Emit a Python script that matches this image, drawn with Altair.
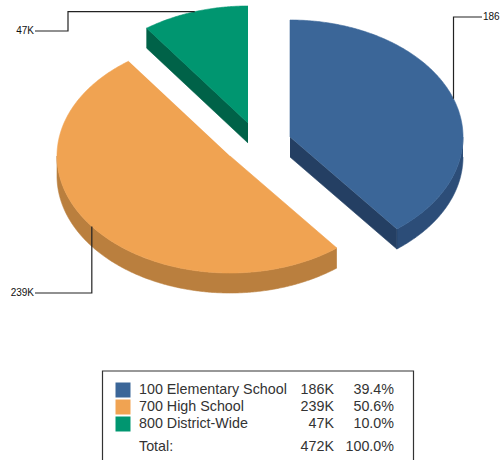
import math
import altair as alt
import pandas as pd

# Pie values and legend rows
categories = ["100 Elementary School", "700 High School", "800 District-Wide"]
amounts = [186, 239, 47]
amount_labels = ["186K", "239K", "47K"]
percent_labels = ["39.4%", "50.6%", "10.0%"]
callout_labels = ["186", "239K", "47K"]
total_label = "Total:"
total_amount = "472K"
total_percent = "100.0%"

top_colors = ["#3B6698", "#F0A352", "#009670"]
wall_colors = ["#2C4D78", "#BA7F3E", "#006B50"]
cut_colors = ["#243F63", "#BA7F3E", "#006248"]

# Ellipse of the tilted disc, and the exploded centre of each slice
RX, RY, DEPTH = 173, 117, 20
centers = [(290, 137), (230, 156), (248, 123)]

W, H = 500, 460
x_scale = alt.Scale(domain=[0, W])
y_scale = alt.Scale(domain=[0, H], reverse=True)
X = alt.X("x:Q", scale=x_scale, axis=None)
Y = alt.Y("y:Q", scale=y_scale, axis=None)


def rim(center, a0, a1, drop=0):
    n = max(2, int(abs(a1 - a0)) * 2)
    pts = []
    for i in range(n + 1):
        a = math.radians(a0 + (a1 - a0) * i / n)
        pts.append((center[0] + RX * math.sin(a), center[1] - RY * math.cos(a) + drop))
    return pts


def polygon(points, color):
    df = pd.DataFrame(points, columns=["x", "y"]).assign(i=range(len(points)))
    return alt.Chart(df).mark_line(fill=color, stroke=color, strokeWidth=0.6, clip=False).encode(
        x=X, y=Y, order="i:Q"
    )


total = sum(amounts)
spans = []
start = 0.0
for v in amounts:
    spans.append((start, start + v / total * 360))
    start += v / total * 360

layers = []
# Back-most slice first so nearer slices overlap it
for idx in [2, 1, 0]:
    c = centers[idx]
    a0, a1 = spans[idx]
    lo, hi = max(a0, 90), min(a1, 270)
    if hi > lo:
        layers.append(polygon(rim(c, lo, hi) + rim(c, hi, lo, DEPTH), wall_colors[idx]))
    if idx == 0:
        e = rim(c, a1, a1)[0]
        layers.append(polygon([c, e, (e[0], e[1] + DEPTH), (c[0], c[1] + DEPTH)], cut_colors[idx]))
    if idx == 2:
        e = rim(c, a0, a0)[0]
        layers.append(polygon([c, e, (e[0], e[1] + DEPTH), (c[0], c[1] + DEPTH)], cut_colors[idx]))
    layers.append(polygon([c] + rim(c, a0, a1), top_colors[idx]))

# Callout lines start on the rim at each slice's middle angle and run square to the label
anchors = [rim(centers[i], sum(spans[i]) / 2, sum(spans[i]) / 2)[0] for i in range(3)]
routes = [
    [anchors[0], (anchors[0][0], 17), (482, 17)],
    [anchors[1], (anchors[1][0], 293), (35, 293)],
    [anchors[2], (68, anchors[2][1]), (68, 31), (35, 31)],
]
leader_rows = []
for idx, route in enumerate(routes):
    for j, (px, py) in enumerate(route):
        leader_rows.append({"s": idx, "i": j, "x": px, "y": py})
layers.append(
    alt.Chart(pd.DataFrame(leader_rows)).mark_line(color="#222222", strokeWidth=1.2).encode(
        x=X, y=Y, detail="s:N", order="i:Q"
    )
)

callouts = pd.DataFrame(
    {"x": [483, 34, 34], "y": [17, 293, 31], "t": callout_labels, "a": ["left", "right", "right"]}
)
for align in ["left", "right"]:
    layers.append(
        alt.Chart(callouts[callouts.a == align]).mark_text(
            align=align, baseline="middle", font="Liberation Sans", fontSize=10, color="#111111"
        ).encode(x=X, y=Y, text="t:N")
    )

# Legend frame: open at the bottom, it runs off the page
frame = pd.DataFrame({"x": [102.5, 102.5, 413.5, 413.5], "y": [470, 371, 371, 470], "i": [0, 1, 2, 3]})
layers.append(
    alt.Chart(frame).mark_line(color="#333333", strokeWidth=1.2, clip=True).encode(x=X, y=Y, order="i:Q")
)

row_y = [390, 407, 424]
swatches = pd.DataFrame(
    {
        "x": [115.5] * 3,
        "x2": [130.5] * 3,
        "y": [y - 7.5 for y in row_y],
        "y2": [y + 7.5 for y in row_y],
        "c": top_colors,
    }
)
layers.append(
    alt.Chart(swatches).mark_rect().encode(
        x=X, x2="x2:Q", y=Y, y2="y2:Q", color=alt.Color("c:N", scale=None)
    )
)

rows = pd.DataFrame(
    {
        "y": row_y + [447],
        "name": categories + [total_label],
        "amount": amount_labels + [total_amount],
        "pct": percent_labels + [total_percent],
    }
)
text_style = dict(baseline="middle", font="Liberation Sans", fontSize=14.3, color="#333333")
layers.append(
    alt.Chart(rows).mark_text(align="left", **text_style).encode(x=alt.datum(139, scale=x_scale, axis=None), y=Y, text="name:N")
)
layers.append(
    alt.Chart(rows).mark_text(align="right", **text_style).encode(x=alt.datum(334, scale=x_scale, axis=None), y=Y, text="amount:N")
)
layers.append(
    alt.Chart(rows).mark_text(align="right", **text_style).encode(x=alt.datum(394, scale=x_scale, axis=None), y=Y, text="pct:N")
)

chart = (
    alt.layer(*layers)
    .properties(width=W, height=H, padding=0, autosize=alt.AutoSizeParams(type="none"))
    .configure_view(stroke=None)
)
chart.save("out.html", embed_options={"renderer": "svg", "actions": False})
